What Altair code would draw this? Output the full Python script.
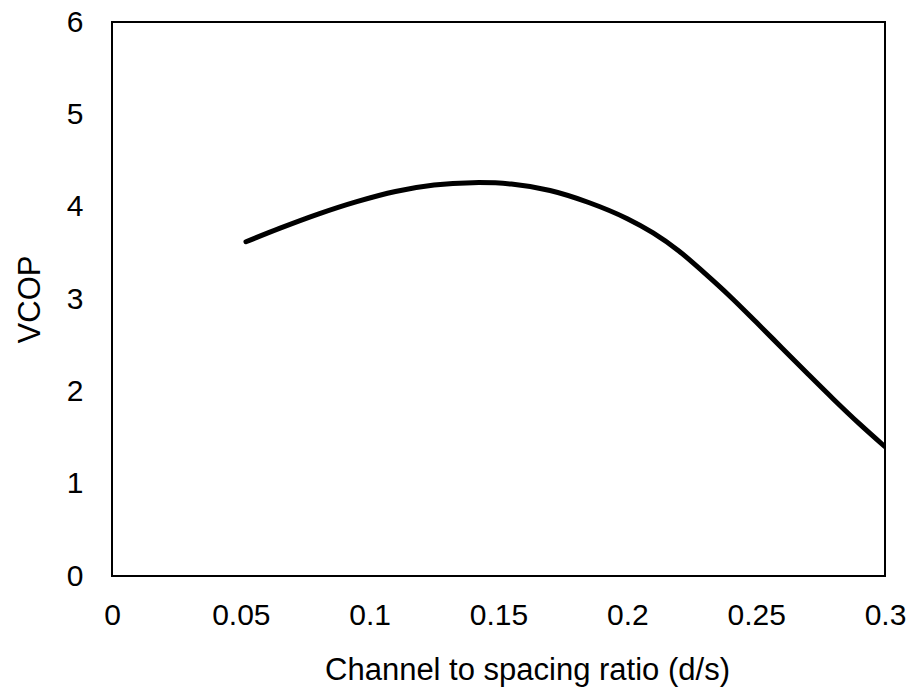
import altair as alt
import pandas as pd

ratio = [0.052, 0.065, 0.08, 0.095, 0.11, 0.125, 0.14, 0.155, 0.17, 0.185, 0.2,
         0.21, 0.22, 0.23, 0.24, 0.25, 0.26, 0.27, 0.28, 0.29, 0.3]
vcop = [3.62, 3.765, 3.92, 4.055, 4.165, 4.235, 4.26, 4.245, 4.175, 4.045, 3.87,
        3.715, 3.52, 3.28, 3.025, 2.75, 2.47, 2.19, 1.915, 1.65, 1.40]
x_ticks = [0, 0.05, 0.1, 0.15, 0.2, 0.25, 0.3]
y_ticks = [0, 1, 2, 3, 4, 5, 6]

df = pd.DataFrame({"ratio": ratio, "vcop": vcop})

FONT = "Liberation Sans"

chart = alt.Chart(df).mark_line(
    color="black", strokeWidth=5, interpolate="catmull-rom", strokeCap="round", clip=True
).encode(
    x=alt.X("ratio:Q", scale=alt.Scale(domain=[0, 0.3], nice=False, zero=False),
            axis=alt.Axis(values=x_ticks, format=".2~f", title="Channel to spacing ratio (d/s)",
                          labelPadding=24, labelFlush=False, labelOverlap=False,
                          titleX=415, titleY=103, titleBaseline="alphabetic", titleAlign="center",
                          titleAnchor="start")),
    y=alt.Y("vcop:Q", scale=alt.Scale(domain=[0, 6], nice=False),
            axis=alt.Axis(values=y_ticks, format="d", title="VCOP",
                          labelPadding=29, labelFlush=False, labelOverlap=False,
                          titleX=-73, titleY=277, titleBaseline="alphabetic", titleAlign="center",
                          titleAngle=-90, titleAnchor="start")),
).properties(
    width=773, height=554,
    autosize=alt.AutoSizeParams(type="none"),
    padding={"left": 112, "top": 22, "right": 27, "bottom": 114},
).configure_view(
    stroke="black", strokeWidth=2
).configure_axis(
    domain=False, ticks=False, tickSize=0, grid=False,
    labelFont=FONT, labelFontSize=30, labelColor="black",
    titleFont=FONT, titleFontSize=31, titleColor="black", titleFontWeight="normal",
)

chart.save("out.html", embed_options={"renderer": "svg", "actions": False})
